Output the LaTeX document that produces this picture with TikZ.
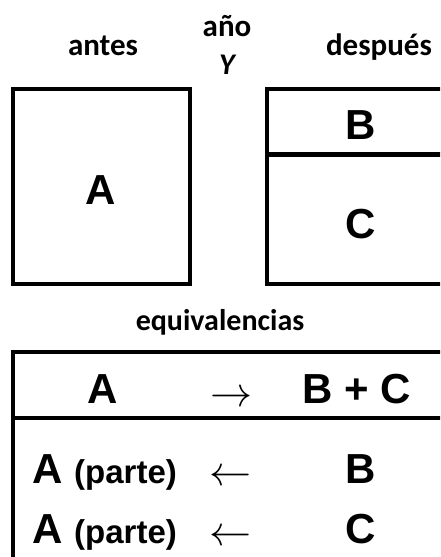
\documentclass[tikz,border=0pt]{standalone}
\usepackage{graphicx}
\usepackage{fontspec}
\setmainfont{Liberation Sans}
\newfontfamily\calib{Carlito}
\usepackage{tikz}
\usetikzlibrary{positioning}
\newcommand{\parte}{{\fontsize{33}{35}\selectfont (parte)}}
\newcommand{\bigarrow}[1]{\scalebox{4.2}{\(#1\)}}

\begin{document}
\begin{tikzpicture}[x=1pt, y=-1pt,
  frame/.style={draw, line width=4.6pt},
  head/.style={font=\calib\bfseries\fontsize{31}{33}\selectfont, anchor=base, inner sep=0pt},
  letter/.style={font=\bfseries\fontsize{42}{44}\selectfont, anchor=base, inner sep=0pt},
  arr/.style={anchor=base, inner sep=0pt}
]
\clip (0,0) rectangle (440,557);
% headings
\node[head] (antes) at (103,55) {antes};
\node[head] (anio) at (227,36) {año};
\node[head, font=\calib\bfseries\itshape\fontsize{30}{32}\selectfont] (anioY) at (227,74) {Y};
\node[head] (despues) at (379,55) {después};
% before and after
\draw[frame] (13,89) rectangle (190,284);
\draw[frame] (267,89) rectangle (470,284);
\draw[frame] (267,154.5) -- (470,154.5);
\node[letter] (A) at (101,204) {A};
\node[letter] (B) at (361,139) {B};
\node[letter] (C) at (361,238) {C};
% table of equivalences
\node[head, font=\calib\bfseries\fontsize{30}{32}\selectfont] (equiv) at (220,330) {equivalencias};
\draw[frame] (13,600) -- (13,352) -- (470,352);
\draw[frame] (13,418) -- (470,418);
\node[letter] (rowA) at (103,403) {A};
\node[arr] (toR) at (231,406) {\bigarrow{\rightarrow}};
\node[letter] (rowBC) at (357,403) {B + C};
\foreach \y/\r/\lt in {483/2/B, 543/3/C} {
  \node[letter, anchor=base west] (part\r) at (32,\y) {A \parte};
  \node[arr] (toL\r) at (230,\y+2) {\bigarrow{\leftarrow}};
  \node[letter] (res\r) at (361,\y) {\lt};
}
\end{tikzpicture}
\end{document}
